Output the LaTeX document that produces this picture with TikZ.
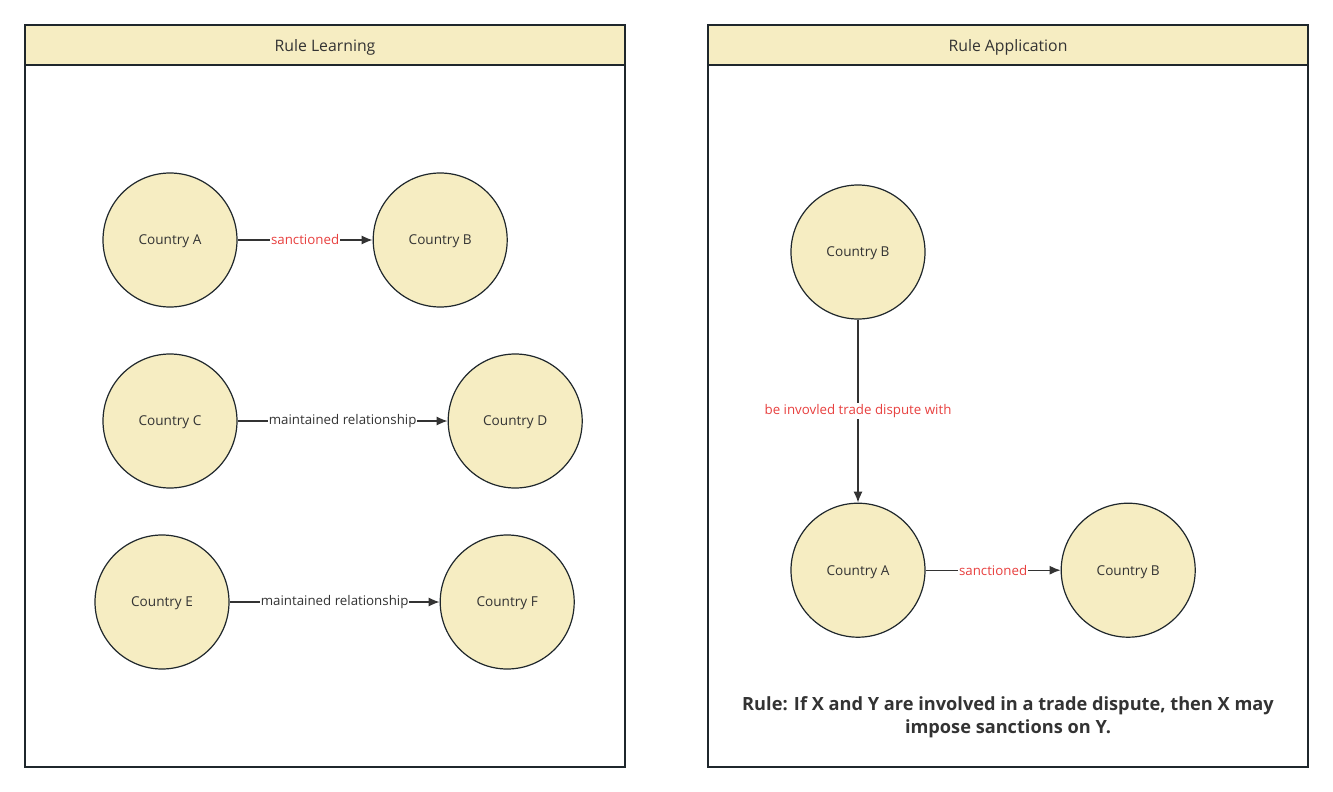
\documentclass[tikz,border=0pt]{standalone}
\usepackage{fontspec}
\setmainfont{Open Sans}
\usetikzlibrary{arrows.meta,positioning}
\definecolor{paleyellow}{HTML}{F6EDC2}
\definecolor{darkline}{HTML}{1F272C}
\definecolor{labelred}{HTML}{E8403F}
\definecolor{textgray}{HTML}{333333}

\begin{document}
\begin{tikzpicture}[x=1pt, y=-1pt, ->, >={Latex[length=11pt,width=9pt]}, line width=1.3pt, draw=textgray, text=textgray, font=\fontsize{13.3}{16}\selectfont]
\tikzstyle{country}=[circle, draw=darkline, fill=paleyellow, minimum size=134pt, inner sep=0pt, line width=1.2pt, text depth=0pt, font=\fontsize{13.6}{16}\selectfont]
\tikzstyle{rel}=[fill=white, inner sep=1pt, text=labelred]
\tikzstyle{plain}=[fill=white, inner sep=1pt]
\tikzstyle{panel}=[draw=darkline, line width=1.8pt, fill=white, minimum width=600pt, minimum height=742pt, inner sep=0pt]
\tikzstyle{head}=[draw=darkline, line width=1.8pt, fill=paleyellow, minimum width=600pt, minimum height=40pt, inner sep=0pt, text depth=0pt, font=\fontsize{15.8}{18}\selectfont]
\useasboundingbox (0,0) rectangle (1333,792);
% panels
\node[panel] (panelL) at (325,396) {};
\node[head]  (headL)  at (325,45)  {Rule Learning};
\node[panel] (panelR) at (1008,396) {};
\node[head]  (headR)  at (1008,45) {Rule Application};
% rule learning
\node[country] (A1) at (170,240) {Country A};
\node[country] (B1) [right=135pt of A1] {Country B};
\node[country] (C1) at (170,421) {Country C};
\node[country] (D1) [right=210pt of C1] {Country D};
\node[country] (E1) at (162,602) {Country E};
\node[country] (F1) [right=210pt of E1] {Country F};
\draw (A1) -- node[rel] {sanctioned} (B1);
\draw (C1) -- node[plain] {maintained relationship} (D1);
\draw (E1) -- node[plain] {maintained relationship} (F1);
% rule application
\node[country] (B2) at (858,252) {Country B};
\node[country] (A2) [below=183pt of B2] {Country A};
\node[country] (B3) [right=135pt of A2] {Country B};
\draw (B2) -- node[rel] {be invovled trade dispute with} (A2);
\draw (A2) -- node[rel] {sanctioned} (B3);
\node[align=center, font=\bfseries\fontsize{18.2}{23}\selectfont] (rule) at (1008,717)
  {Rule: If X and Y are involved in a trade dispute, then X may\\impose sanctions on Y.};
\end{tikzpicture}
\end{document}
